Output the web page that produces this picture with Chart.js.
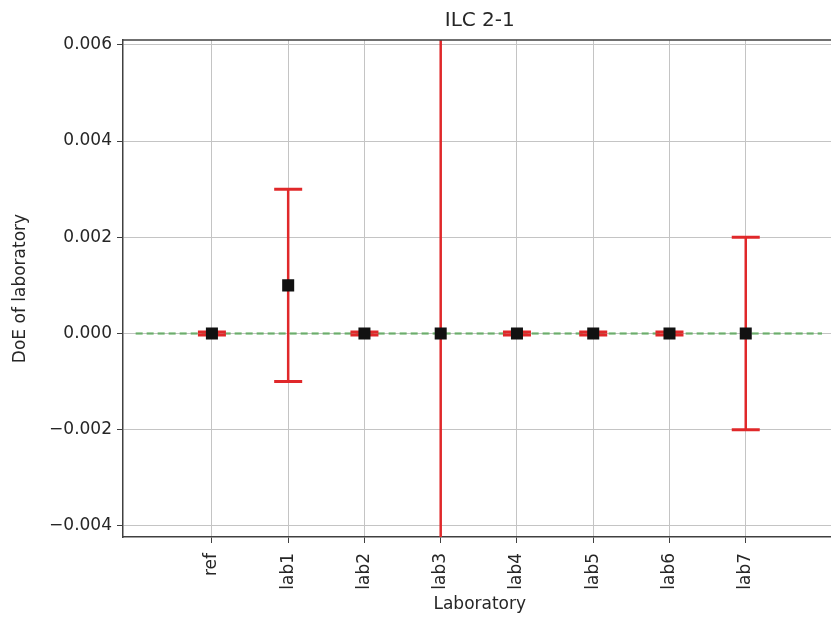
<!DOCTYPE html>
<html lang="en">
<head>
    <meta charset="UTF-8">
    <title>ILC 2-1</title>
    <script src="https://cdn.jsdelivr.net/npm/chart.js"></script>
    <style>
        html, body { margin: 0; padding: 0; background: #fff; overflow: hidden; }
        #wrap { width: 845px; height: 617px; }
    </style>
</head>
<body>
    <div id="wrap"><canvas id="chart" width="845" height="617"></canvas></div>
    <script>
        // data
        const labs = ['ref', 'lab1', 'lab2', 'lab3', 'lab4', 'lab5', 'lab6', 'lab7'];
        const doe = [0, 0.001, 0, 0, 0, 0, 0, 0];
        const doeErr = [0.00003, 0.002, 0.00003, 0.03, 0.00003, 0.00003, 0.00003, 0.002];
        const yTicks = [-0.004, -0.002, 0, 0.002, 0.004, 0.006];
        const refLine = [-1, 8];

        const txt = '#262626';
        const red = '#e0282a';

        const errorBars = {
            id: 'errorBars',
            beforeDatasetDraw(chart, args) {
                if (args.index !== 0) return;
                const { ctx, chartArea, scales: { x, y } } = chart;
                ctx.save();
                ctx.beginPath();
                ctx.rect(chartArea.left, chartArea.top, chartArea.right - chartArea.left, chartArea.bottom - chartArea.top);
                ctx.clip();
                ctx.strokeStyle = red;
                doe.forEach((v, i) => {
                    const px = x.getPixelForValue(i);
                    const lo = y.getPixelForValue(v - doeErr[i]);
                    const hi = y.getPixelForValue(v + doeErr[i]);
                    ctx.lineWidth = 2.5;
                    ctx.beginPath();
                    ctx.moveTo(px, lo);
                    ctx.lineTo(px, hi);
                    ctx.stroke();
                    ctx.lineWidth = 3;
                    [lo, hi].forEach(py => {
                        ctx.beginPath();
                        ctx.moveTo(px - 14, py);
                        ctx.lineTo(px + 14, py);
                        ctx.stroke();
                    });
                });
                ctx.restore();
            },
            afterDraw(chart) {
                const { ctx, chartArea } = chart;
                ctx.save();
                ctx.strokeStyle = '#404040';
                ctx.lineWidth = 1.5;
                ctx.beginPath();
                ctx.moveTo(chartArea.left, chartArea.top);
                ctx.lineTo(chartArea.right, chartArea.top);
                ctx.stroke();
                ctx.restore();
            }
        };

        const font = { family: 'DejaVu Sans', size: 17 };

        new Chart(document.getElementById('chart'), {
            type: 'scatter',
            data: {
                datasets: [{
                    data: doe.map((v, i) => ({ x: i, y: v })),
                    pointStyle: 'rect',
                    pointRadius: 8.5,
                    backgroundColor: '#111',
                    borderColor: '#111',
                    borderWidth: 0
                }, {
                    type: 'line',
                    data: refLine.map(v => ({ x: v, y: 0 })),
                    borderColor: 'rgba(40,150,40,0.55)',
                    borderWidth: 2.5,
                    borderDash: [7, 4],
                    pointRadius: 0,
                    fill: false
                }]
            },
            options: {
                responsive: false,
                animation: false,
                layout: { padding: { left: 0, right: 8, top: 0, bottom: 0 } },
                plugins: {
                    legend: { display: false },
                    tooltip: { enabled: false },
                    title: {
                        display: true,
                        text: 'ILC 2-1',
                        fullSize: false,
                        color: txt,
                        font: { family: 'DejaVu Sans', size: 20, weight: 'normal' },
                        padding: { top: 9, bottom: 7 }
                    }
                },
                scales: {
                    x: {
                        type: 'linear',
                        min: -1.166,
                        max: 8.19,
                        afterBuildTicks: s => { s.ticks = labs.map((l, i) => ({ value: i })); },
                        afterFit: s => { s.height = 80; },
                        ticks: {
                            color: txt,
                            font: font,
                            maxRotation: 90,
                            minRotation: 90,
                            padding: 10,
                            callback: v => labs[v]
                        },
                        grid: { color: '#c4c4c4', lineWidth: 1, tickLength: 6, tickColor: '#404040' },
                        border: { color: '#404040', width: 1.5 },
                        title: { display: true, text: 'Laboratory', color: txt, font: font, padding: { top: 0, bottom: 2 } }
                    },
                    y: {
                        min: -0.00423,
                        max: 0.0061,
                        afterBuildTicks: s => { s.ticks = yTicks.map(v => ({ value: v })); },
                        afterFit: s => { s.width = 123; },
                        ticks: {
                            color: txt,
                            font: font,
                            padding: 5,
                            callback: v => v.toFixed(3).replace('-', '\u2212')
                        },
                        grid: { color: '#c4c4c4', lineWidth: 1, tickLength: 6, tickColor: '#404040' },
                        border: { color: '#404040', width: 1.5 },
                        title: { display: true, text: 'DoE of laboratory', color: txt, font: font, padding: { top: 10, bottom: 0 } }
                    }
                }
            },
            plugins: [errorBars]
        });
    </script>
</body>
</html>
